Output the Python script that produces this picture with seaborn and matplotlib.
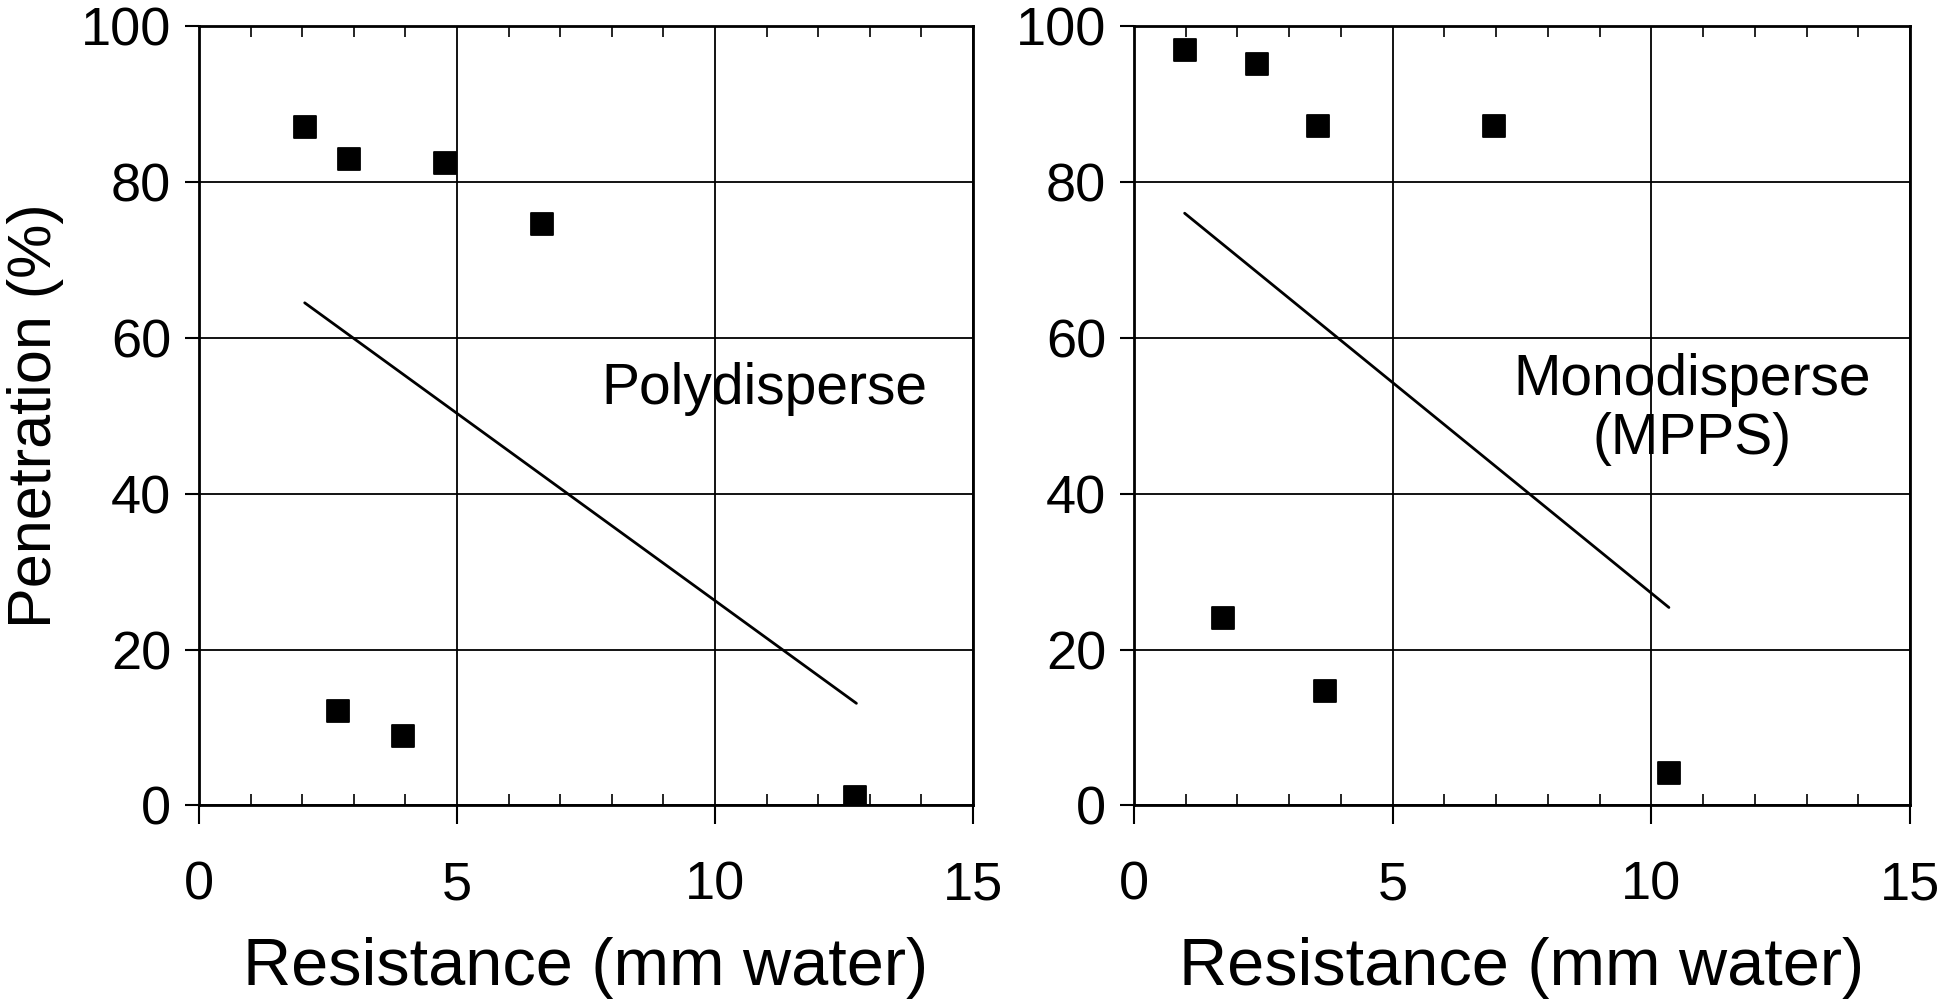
import numpy as np
import pandas as pd
import matplotlib
matplotlib.use("Agg")
import matplotlib.pyplot as plt
from matplotlib.ticker import MultipleLocator
import seaborn as sns

# Polydisperse panel
poly_res = [2.05, 2.91, 4.77, 6.65, 2.70, 3.95, 12.71]
poly_pen = [87.1, 82.9, 82.4, 74.6, 12.1, 8.9, 1.1]
poly_fit_res = [2.05, 12.74]
poly_fit_pen = [64.5, 13.1]

# Monodisperse (MPPS) panel
mono_res = [0.98, 2.38, 3.55, 6.96, 1.73, 3.70, 10.34]
mono_pen = [97.0, 95.2, 87.2, 87.2, 24.1, 14.7, 4.2]
mono_fit_res = [0.98, 10.34]
mono_fit_pen = [76.0, 25.4]

sns.set_style("white")
plt.rcParams["font.family"] = ["Liberation Sans", "DejaVu Sans"]
plt.rcParams["text.color"] = "black"
plt.rcParams["axes.labelcolor"] = "black"
plt.rcParams["xtick.color"] = "black"
plt.rcParams["ytick.color"] = "black"

fig = plt.figure(figsize=(19.5, 10.08), dpi=100)
ax1 = fig.add_axes([0.102, 0.201, 0.397, 0.773])
ax2 = fig.add_axes([0.5815, 0.201, 0.398, 0.773])

panels = [
    (ax1, poly_res, poly_pen, poly_fit_res, poly_fit_pen, "Polydisperse", 10.95, 53.5, True),
    (ax2, mono_res, mono_pen, mono_fit_res, mono_fit_pen, "Monodisperse\n(MPPS)", 10.78, 50.8, False),
]

for ax, xr, yp, fx, fy, label, tx, ty, show_ylabel in panels:
    pts = pd.DataFrame({"res": xr, "pen": yp})
    fit = pd.DataFrame({"res": fx, "pen": fy})
    sns.lineplot(data=fit, x="res", y="pen", ax=ax, color="black", linewidth=2, zorder=3)
    sns.scatterplot(data=pts, x="res", y="pen", ax=ax, marker="s", s=260,
                    color="black", edgecolor="black", zorder=4)
    ax.set_xlim(0, 15)
    ax.set_ylim(0, 100)
    ax.xaxis.set_major_locator(MultipleLocator(5))
    ax.xaxis.set_minor_locator(MultipleLocator(1))
    ax.yaxis.set_major_locator(MultipleLocator(20))
    ax.grid(True, which="major", color="black", linewidth=1.3)
    ax.set_axisbelow(True)
    for s in ax.spines.values():
        s.set_color("black")
        s.set_linewidth(2)
    ax.tick_params(axis="x", which="major", direction="out", length=14, width=1.5,
                   labelsize=39, pad=26, bottom=True)
    ax.tick_params(axis="x", which="minor", direction="in", length=8, width=1.2,
                   bottom=True, top=True)
    ax.tick_params(axis="y", which="major", direction="out", length=10, width=1.5,
                   labelsize=39, pad=10, left=True)
    ax.set_xlabel("Resistance (mm water)", fontsize=48, labelpad=19)
    ax.set_ylabel("Penetration (%)" if show_ylabel else "", fontsize=44, labelpad=12)
    ax.text(tx, ty, label, fontsize=41, ha="center", va="center", linespacing=1.1)

fig.savefig("out.png", dpi=100)
